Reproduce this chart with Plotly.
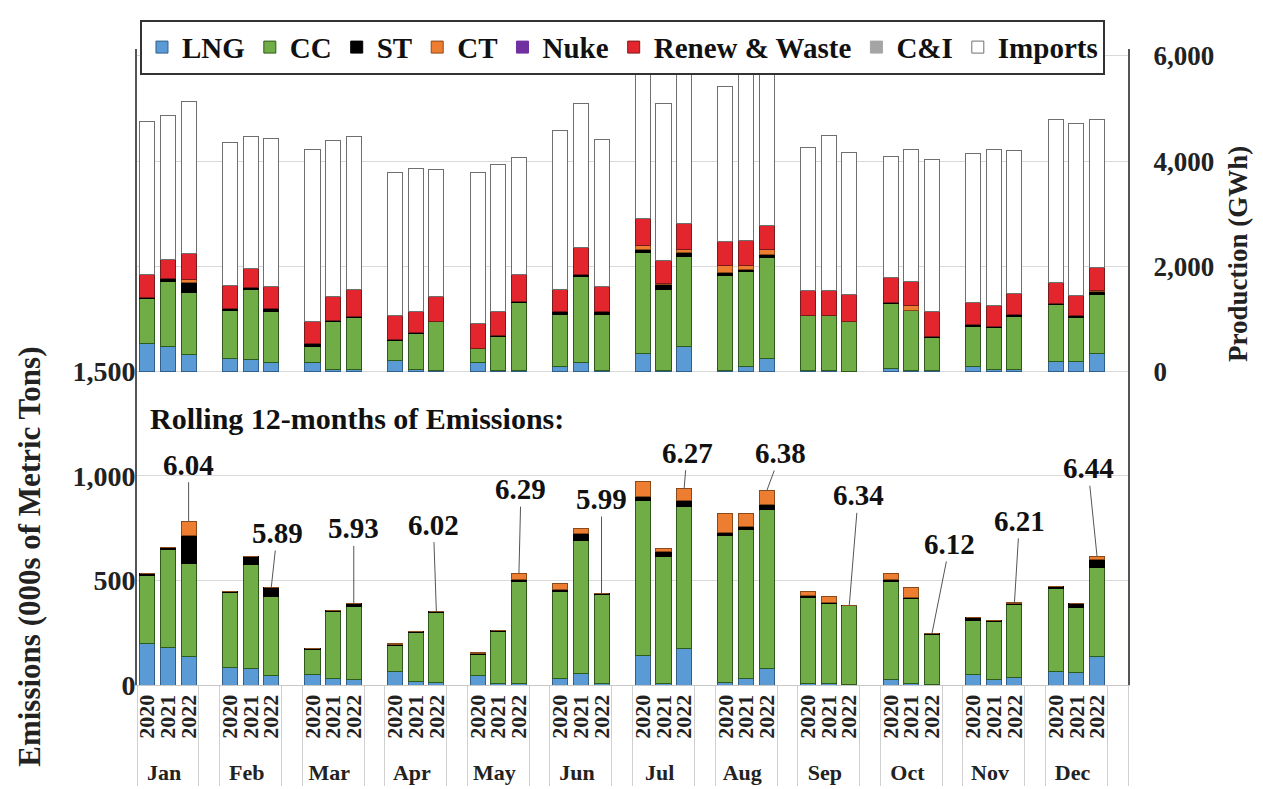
import plotly.graph_objects as go

MONTHS = ["Jan", "Feb", "Mar", "Apr", "May", "Jun", "Jul", "Aug", "Sep", "Oct", "Nov", "Dec"]
YEARS = ["2020", "2021", "2022"]

# Emissions (000s of metric tons), order: Jan2020, Jan2021, Jan2022, Feb2020, ...
EM_LNG = [200, 180, 137, 83, 79, 47, 52, 30, 25, 65, 15, 10, 45, 5, 5, 30, 55, 5,
          142, 5, 176, 10, 30, 79, 5, 5, 3, 25, 5, 3, 50, 25, 35, 63, 60, 137]
EM_CC = [325, 468, 445, 360, 495, 378, 120, 320, 350, 125, 236, 338, 100, 253, 490, 418, 637, 430,
         739, 608, 678, 705, 714, 762, 412, 383, 376, 468, 407, 240, 257, 278, 352, 398, 310, 426]
EM_ST = [8, 8, 133, 5, 39, 39, 4, 4, 15, 5, 4, 3, 5, 5, 10, 10, 31, 5,
         23, 25, 27, 16, 15, 24, 10, 5, 2, 10, 5, 1, 15, 7, 2, 8, 18, 35]
EM_CT = [0, 0, 66, 0, 0, 0, 0, 0, 0, 2, 0, 0, 4, 0, 30, 28, 24, 0,
         71, 14, 58, 87, 63, 63, 18, 32, 0, 32, 50, 0, 0, 0, 4, 0, 0, 18]

# Production (GWh)
PR_LNG = [538, 475, 332, 244, 225, 163, 163, 30, 30, 206, 30, 20, 163, 20, 15, 100, 163, 20,
          351, 20, 475, 20, 100, 244, 10, 10, 5, 60, 20, 10, 100, 40, 40, 193, 193, 351]
PR_CC = [855, 1232, 1163, 919, 1332, 968, 312, 927, 995, 375, 700, 930, 270, 650, 1290, 988, 1644, 1068,
         1906, 1540, 1720, 1800, 1795, 1919, 1045, 1050, 940, 1240, 1130, 640, 750, 790, 1000, 1080, 826, 1115]
PR_ST = [20, 51, 199, 43, 43, 75, 63, 19, 13, 19, 15, 7, 12, 11, 27, 43, 45, 43,
         64, 94, 62, 62, 50, 64, 14, 9, 12, 19, 13, 12, 45, 20, 42, 16, 50, 62]
PR_CT = [0, 0, 56, 0, 0, 0, 0, 0, 0, 0, 0, 0, 0, 0, 0, 0, 0, 0,
         75, 10, 64, 126, 63, 94, 0, 0, 0, 0, 94, 0, 0, 0, 0, 0, 0, 10]
PR_NUKE = [0] * 36
PR_RENEW = [439, 375, 496, 426, 357, 413, 419, 456, 519, 469, 386, 475, 468, 450, 520, 426, 499, 488,
            518, 437, 499, 469, 487, 450, 469, 469, 500, 469, 450, 469, 412, 407, 394, 394, 376, 438]
PR_CI = [0] * 36
PR_IMPORTS = [2908, 2739, 2889, 2721, 2502, 2815, 3270, 2952, 2902, 2721, 2721, 2401, 2877, 2803, 2207,
              3015, 2752, 2796, 2752, 3002, 2846, 2945, 3171, 2895, 2721, 2940, 2708, 2296, 2520, 2890,
              2839, 2970, 2720, 3107, 3264, 2814]

ROLLING = ["6.04", "5.89", "5.93", "6.02", "6.29", "5.99", "6.27", "6.38", "6.34", "6.12", "6.21", "6.44"]
# label offsets (pixels) relative to the 2022 bar top
LABEL_AX = [0, 6, 0, -3, 2, 0, 3, 14, 9, 18, 5, -9]
LABEL_AY = [-57, -55, -75, -87, -84, -94, -36, -38, -110, -90, -82, -88]

FONT = "Liberation Serif"

# multicategory axis with an empty slot after each month
outer, inner = [], []
for i, m in enumerate(MONTHS):
    for yr in YEARS:
        outer.append(m)
        inner.append(yr)
    outer.append(" " * (i + 1))
    inner.append(" ")


def pad(vals):
    out = []
    for i in range(len(MONTHS)):
        out += list(vals[3 * i:3 * i + 3]) + [None]
    return out


fig = go.Figure()

prod_series = [
    ("LNG", PR_LNG, "#5B9BD5", "#2F5F8A"),
    ("CC", PR_CC, "#70AD47", "#2E5A1C"),
    ("ST", PR_ST, "#000000", "#000000"),
    ("CT", PR_CT, "#ED7D31", "#8A4A1A"),
    ("Nuke", PR_NUKE, "#7030A0", "#7030A0"),
    ("Renew & Waste", PR_RENEW, "#E3262E", "#7A1A1A"),
    ("C&I", PR_CI, "#A5A5A5", "#A5A5A5"),
    ("Imports", PR_IMPORTS, "#FFFFFF", "#6F6F6F"),
]
for name, vals, col, lcol in prod_series:
    fig.add_trace(go.Bar(
        x=[outer, inner], y=pad(vals), name=name, yaxis="y2",
        marker=dict(color=col, line=dict(color=lcol, width=1)),
        legendgroup=name, showlegend=True,
    ))

em_series = [
    ("LNG", EM_LNG, "#5B9BD5", "#2F5F8A"),
    ("CC", EM_CC, "#70AD47", "#2E5A1C"),
    ("ST", EM_ST, "#000000", "#000000"),
    ("CT", EM_CT, "#ED7D31", "#8A4A1A"),
]
for name, vals, col, lcol in em_series:
    fig.add_trace(go.Bar(
        x=[outer, inner], y=pad(vals), name=name, yaxis="y",
        marker=dict(color=col, line=dict(color=lcol, width=1)),
        legendgroup=name, showlegend=False,
    ))

annotations = []
for i, m in enumerate(MONTHS):
    k = 3 * i + 2
    total = EM_LNG[k] + EM_CC[k] + EM_ST[k] + EM_CT[k]
    annotations.append(dict(
        x=4 * i + 2, y=total, xref="x", yref="y",
        text=ROLLING[i], showarrow=True, arrowhead=0, arrowwidth=1, arrowcolor="#555",
        ax=LABEL_AX[i], ay=LABEL_AY[i], standoff=0,
        font=dict(family=FONT, size=29, color="#111", weight="bold"),
    ))

annotations.append(dict(
    x=0.011, y=0.4186, xref="paper", yref="paper", xanchor="left", yanchor="middle",
    text="Rolling 12-months of Emissions:", showarrow=False,
    font=dict(family=FONT, size=30, color="#111", weight="bold"),
))
annotations.append(dict(
    x=-0.108, y=0.2016, xref="paper", yref="paper", xanchor="center", yanchor="middle",
    text="Emissions (000s of Metric Tons)", showarrow=False, textangle=-90,
    font=dict(family=FONT, size=31, color="#222", weight="bold"),
))
annotations.append(dict(
    x=1.111, y=0.6775, xref="paper", yref="paper", xanchor="center", yanchor="middle",
    text="Production (GWh)", showarrow=False, textangle=-90,
    font=dict(family=FONT, size=27, color="#222", weight="bold"),
))

fig.update_layout(
    template="none",
    width=1255, height=781,
    margin=dict(l=129, r=135, t=32, b=104),
    barmode="stack", bargap=0.27,
    paper_bgcolor="white", plot_bgcolor="white",
    font=dict(family=FONT, size=27, color="#222", weight="bold"),
    legend=dict(
        orientation="h", x=0.003, y=1.046, xanchor="left", yanchor="top",
        bordercolor="#333", borderwidth=2, bgcolor="white",
        font=dict(family=FONT, size=29, color="#111", weight="bold"),
        traceorder="normal",
    ),
    xaxis=dict(
        type="multicategory", showdividers=True, dividercolor="#d0d0d0", dividerwidth=1,
        tickmode="linear", tick0=0, dtick=1,
        tickangle=-90, tickfont=dict(family=FONT, size=22, color="#222", weight="bold"),
        showline=True, linecolor="#c8c8c8", linewidth=1, showgrid=False,
        automargin=False, range=[-0.5, 47.5], ticks="",
    ),
    yaxis=dict(
        range=[0, 3042], tickvals=[0, 500, 1000, 1500], tickformat=",d",
        showgrid=True, gridcolor="#d9d9d9", gridwidth=1, zeroline=False,
        showline=True, linecolor="#555", linewidth=2, ticks="", ticklabelstandoff=-6,
        tickfont=dict(family=FONT, size=28, color="#222", weight="bold"),
        automargin=False,
    ),
    yaxis2=dict(
        overlaying="y", side="right", range=[-5960, 6130], tickvals=[0, 2000, 4000, 6000],
        tickformat=",d", showgrid=True, gridcolor="#d9d9d9", gridwidth=1, zeroline=False,
        showline=True, linecolor="#555", linewidth=2, ticks="", ticklabelstandoff=18,
        tickfont=dict(family=FONT, size=27, color="#222", weight="bold"),
        automargin=False,
    ),
    annotations=annotations,
)

fig.write_html("out.html")
